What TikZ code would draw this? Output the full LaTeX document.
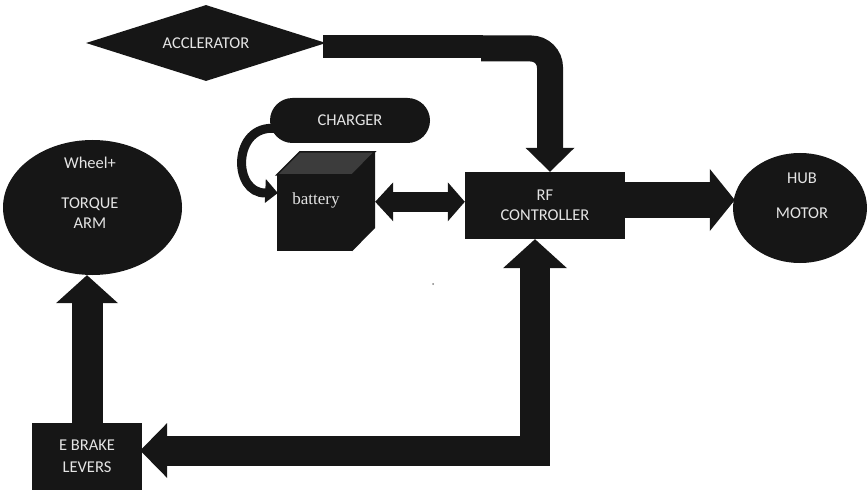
\documentclass[tikz,border=0pt]{standalone}
\usepackage{fontspec}
\setmainfont{Carlito}
\newfontfamily\batfont{Liberation Serif}
\usetikzlibrary{shapes.geometric,shapes.misc,calc}
\definecolor{ink}{HTML}{161616}
\definecolor{topgray}{HTML}{3C3C3C}
\definecolor{txt}{HTML}{E4E4E4}
\begin{document}
\begin{tikzpicture}[x=1pt,y=-1pt,
  shapebox/.style={fill=ink, draw=none, inner sep=0pt, text=txt,
    font=\fontsize{16.5}{20}\selectfont, align=center},
  lbl/.style={text=txt, font=\fontsize{16.5}{20}\selectfont, align=center, inner sep=0pt},
  tipfill/.style={fill=ink, draw=none}]
\useasboundingbox (0,0) rectangle (868,500);

% nodes
\node[shapebox, diamond, aspect=3.16, minimum width=240pt, minimum height=76pt] (acc) at (206,43) {ACCLERATOR};
\node[shapebox, rounded rectangle, minimum width=160pt, minimum height=45pt] (chg) at (350,120.5) {CHARGER};
\node[shapebox, rectangle, minimum width=160pt, minimum height=67pt] (ctrl) at (545,205.5) {RF\\CONTROLLER};
\node[shapebox, rectangle, minimum width=110pt, minimum height=67pt] (ebk) at (87,456.5) {E BRAKE\\[2pt]LEVERS};
\node[shapebox, ellipse, minimum width=179pt, minimum height=135pt] (wheel) at (92.5,207.5) {};
\node[lbl] (wheeltxt) at (90,193) {Wheel+\\[20pt]TORQUE\\ARM};
\node[shapebox, ellipse, minimum width=134pt, minimum height=110pt] (hub) at (800,208) {};
\node[lbl] (hubtxt) at (802,196) {HUB\\[15pt]MOTOR};

% battery cube
\node[fill=ink, minimum width=75pt, minimum height=76pt, inner sep=0pt] (bat) at (314.5,213) {};
\filldraw[fill=topgray, draw=ink, line width=1.5pt, line join=miter]
  (bat.north west) -- ++(23,-23) -- ++(75,0) -- (bat.north east) -- cycle;
\fill[ink] (bat.north east) -- ++(23,-23) -- ++(0,76) -- (bat.south east) -- cycle;
\node[lbl, font=\batfont\fontsize{17}{18}\selectfont] (battxt) at (316,200) {battery};

% accelerator -> controller
\coordinate (aT) at ($(ctrl.north)+(5,0)$);
\draw[ink, line width=23pt] ($(acc.east)+(-3,3.5)$) -- ++(160,0);
\draw[ink, line width=26pt, rounded corners=19pt] ($(acc.east)+(155,5.5)$) -| ($(aT)+(0,-23)$);
\fill[tipfill] (aT) -- ++(-24.5,-24) -- ++(49,0) -- cycle;

% charger -> battery
\coordinate (cS) at ($(chg.west)+(6,8)$);
\coordinate (cE) at ($(bat.west)+(1,-20)$);
\draw[ink, line width=9pt] (cS) .. controls (232,124) and (232,194) .. ($(cE)+(-12,0)$);
\fill[tipfill] (cE) -- ++(-12,-14) -- ++(-1,24) -- cycle;

% battery <-> controller
\coordinate (dA) at ($(bat.north east)+(23,27)$);
\coordinate (dB) at (ctrl.west |- dA);
\draw[ink, line width=20pt] ($(dA)+(17,0)$) -- ($(dB)+(-16,0)$);
\fill[tipfill] (dA) -- ++(18,-19.5) -- ++(0,39) -- cycle;
\fill[tipfill] (dB) -- ++(-17,-19.5) -- ++(0,39) -- cycle;

% controller -> hub motor
\coordinate (hA) at ($(ctrl.east)+(0,-5.5)$);
\coordinate (hB) at ($(hub.west)+(2,-8)$);
\draw[ink, line width=35pt] (hA) -- ($(hB)+(-24,0)$);
\fill[tipfill] (hB) -- ++(-25,-31) -- ++(0,62) -- cycle;

% controller <-> e brake
\coordinate (cB) at ($(ctrl.south)+(-10,0)$);
\coordinate (eR) at ($(ebk.east)+(-2,-6)$);
\draw[ink, line width=30pt, line join=miter] ($(cB)+(0,28)$) |- ($(eR)+(26,0)$);
\fill[tipfill] (cB) -- ++(-32,29) -- ++(64,0) -- cycle;
\fill[tipfill] (eR) -- ++(27,-27.5) -- ++(0,55) -- cycle;

% e brake -> wheel
\coordinate (wT) at (ebk.north |- wheel.south);
\draw[ink, line width=31pt] (ebk.north) -- ($(wT)+(0,27)$);
\fill[tipfill] (wT) -- ++(-31,28) -- ++(62,0) -- cycle;

% speck
\fill[gray] (433,284) circle (1pt);
\end{tikzpicture}
\end{document}
